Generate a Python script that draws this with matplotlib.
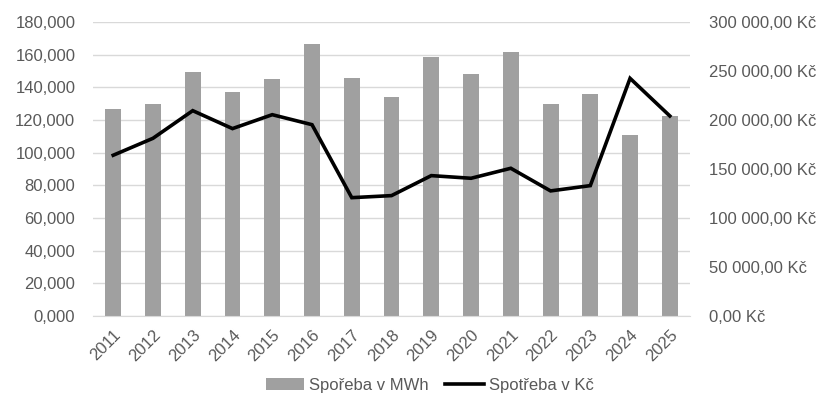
import matplotlib.pyplot as plt
from matplotlib.ticker import FuncFormatter, MultipleLocator

years = [str(y) for y in range(2011, 2026)]
mwh = [126.9, 129.8, 149.4, 137.3, 144.9, 166.3, 145.7, 134.3,
       158.8, 148.2, 161.4, 129.6, 135.7, 110.8, 122.2]
czk = [164000, 181300, 209500, 191200, 205400, 195200, 120700, 122800,
       143200, 140500, 150700, 127600, 133000, 242500, 204100]

plt.rcParams['font.family'] = ['Liberation Sans', 'DejaVu Sans']
plt.rcParams['font.size'] = 12
grey = '#595959'

fig = plt.figure(figsize=(8.26, 4.19), dpi=100)
ax = fig.add_axes([0.113, 0.246, 0.722, 0.7015])
ax2 = ax.twinx()

x = range(len(years))
bars = ax.bar(x, mwh, width=0.4, color='#a0a0a0', label='Spořeba v MWh', zorder=2)
line, = ax2.plot(x, czk, color='black', lw=2.6, label='Spotřeba v Kč',
                 solid_joinstyle='miter', zorder=3)

ax.set_xlim(-0.5, len(years) - 0.5)
ax.set_ylim(0, 180)
ax2.set_ylim(0, 300000)
ax.yaxis.set_major_locator(MultipleLocator(20))
ax2.yaxis.set_major_locator(MultipleLocator(50000))
ax.yaxis.set_major_formatter(FuncFormatter(lambda v, p: f"{v:.3f}".replace('.', ',')))
ax2.yaxis.set_major_formatter(FuncFormatter(
    lambda v, p: f"{v:,.2f}".replace(',', ' ').replace('.', ',') + ' Kč'))

ax.grid(axis='y', color='#d9d9d9', lw=1, zorder=0)
ax.set_axisbelow(True)
ax.set_zorder(ax2.get_zorder() - 1)
ax.patch.set_visible(False)
ax2.patch.set_visible(False)

for a in (ax, ax2):
    for s in a.spines.values():
        s.set_visible(False)
    a.tick_params(length=0, colors=grey, labelsize=12)
ax.spines['bottom'].set_visible(True)
ax.spines['bottom'].set_color('#d9d9d9')
ax.tick_params(axis='y', pad=13)
ax2.tick_params(axis='y', pad=14)

ax.set_xticks(list(x))
ax.set_xticklabels(years, rotation=45, ha='right', rotation_mode='anchor')
ax.tick_params(axis='x', pad=8)

fig.legend([bars, line], ['Spořeba v MWh', 'Spotřeba v Kč'], loc='center',
           bbox_to_anchor=(0.52, 0.08), ncol=2, frameon=False, fontsize=12,
           labelcolor=grey, handlelength=2.3, columnspacing=1.0, handletextpad=0.3)

fig.savefig('out.png', dpi=100)
